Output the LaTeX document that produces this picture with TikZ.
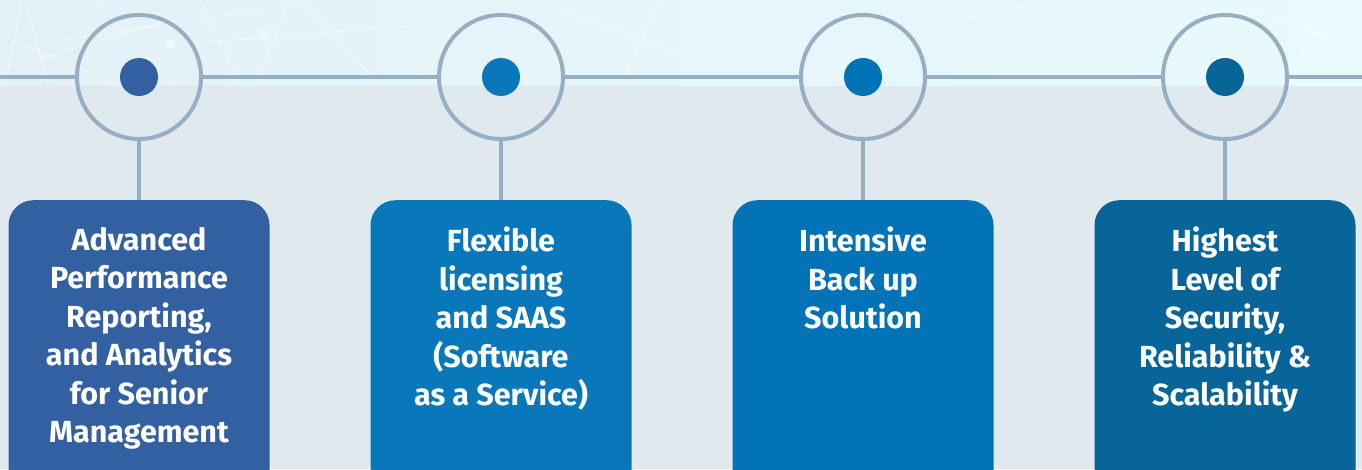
\documentclass[tikz,border=0pt]{standalone}
\usepackage{fontspec}
\setmainfont{Fira Sans}
\usetikzlibrary{positioning}

\definecolor{linegray}{HTML}{97AFC2}
\definecolor{bandlow}{HTML}{DFE9EE}
\definecolor{skyleft}{HTML}{E3F1F7}
\definecolor{skyright}{HTML}{E8FAFD}
\definecolor{blueA}{HTML}{3360A0}
\definecolor{blueB}{HTML}{0878BA}
\definecolor{blueC}{HTML}{0273B7}
\definecolor{blueD}{HTML}{08659A}

\tikzset{
  ring/.style={circle, draw=linegray, line width=4pt, minimum size=124pt, inner sep=0pt},
  dot/.style={circle, fill=#1, minimum size=38pt, inner sep=0pt},
  card/.style={rectangle, rounded corners=25pt, fill=#1, minimum width=261pt,
    minimum height=300pt, anchor=north, inner sep=0pt},
  cardtext/.style={text=white, font=\bfseries\fontsize{30.5}{38.5}\selectfont,
    align=center, anchor=north, inner sep=0pt},
  link/.style={draw=linegray, line width=4pt},
  net/.style={draw=white, line width=1.2pt, opacity=0.45},
}

\begin{document}
\begin{tikzpicture}[x=1pt, y=-1pt]
    \useasboundingbox (0,0) rectangle (1362,469);
    \clip (0,0) rectangle (1362,469);
    % background bands
    \fill [bandlow] (0,0) rectangle (1362,469);
    \shade [left color=skyleft, right color=skyright] (0,0) rectangle (1362,85);
    \begin{scope}
        \clip (0,0) rectangle (1362,85);
        \draw [net] (5,85) -- (22,0);
        \draw [net] (25,0) -- (48,85);
        \draw [net] (0,35) -- (120,85);
        \draw [net] (0,70) -- (170,20);
        \draw [net] (95,0) -- (175,85);
        \draw [net] (60,40) -- (260,10);
        \draw [net] (200,0) -- (240,85);
        \draw [net] (255,85) -- (290,0);
        \draw [net] (170,45) -- (420,25);
        \draw [net] (300,0) -- (380,85);
        \draw [net] (420,85) -- (470,0);
        \draw [net] (560,10) -- (700,60);
        \draw [net] (620,85) -- (660,0);
        \draw [net] (900,30) -- (1060,0);
        \draw [net] (1290,85) -- (1320,0);
        \draw [net] (1250,10) -- (1362,50);
        \fill [white, opacity=0.5] (170,44) circle (5);
        \fill [white, opacity=0.4] (263,34) circle (5);
        \fill [white, opacity=0.4] (1320,33) circle (5);
    \end{scope}

    % rings and dots
    \node [ring] (r1) at (139,77) {};
    \node [ring] (r2) at (501,77) {};
    \node [ring] (r3) at (863,77) {};
    \node [ring] (r4) at (1225,77) {};
    \node [dot=blueA] (d1) at (r1) {};
    \node [dot=blueB] (d2) at (r2) {};
    \node [dot=blueC] (d3) at (r3) {};
    \node [dot=blueD] (d4) at (r4) {};

    % cards
    \node [card=blueA] (c1) at (139,200) {};
    \node [card=blueB] (c2) at (501,200) {};
    \node [card=blueC] (c3) at (863,200) {};
    \node [card=blueD] (c4) at (1225,200) {};
    \node [cardtext] (t1) at (139,227) {Advanced\\Performance\\Reporting,\\and Analytics\\for Senior\\Management};
    \node [cardtext] (t2) at (501,227) {Flexible\\licensing\\and SAAS\\(Software\\as a Service)};
    \node [cardtext] (t3) at (863,227) {Intensive\\Back up\\Solution};
    \node [cardtext] (t4) at (1225,227) {Highest\\Level of\\Security,\\Reliability \&\\Scalability};

    % timeline
    \coordinate (lend) at (0,77);
    \coordinate (rend) at (1362,77);
    \draw [link] (lend) -- (r1);
    \draw [link] (r1) -- (r2);
    \draw [link] (r2) -- (r3);
    \draw [link] (r3) -- (r4);
    \draw [link] (r4) -- (rend);
    \foreach \i in {1,...,4}
        \draw [link] (r\i.south) -- (c\i.north);
\end{tikzpicture}
\end{document}
